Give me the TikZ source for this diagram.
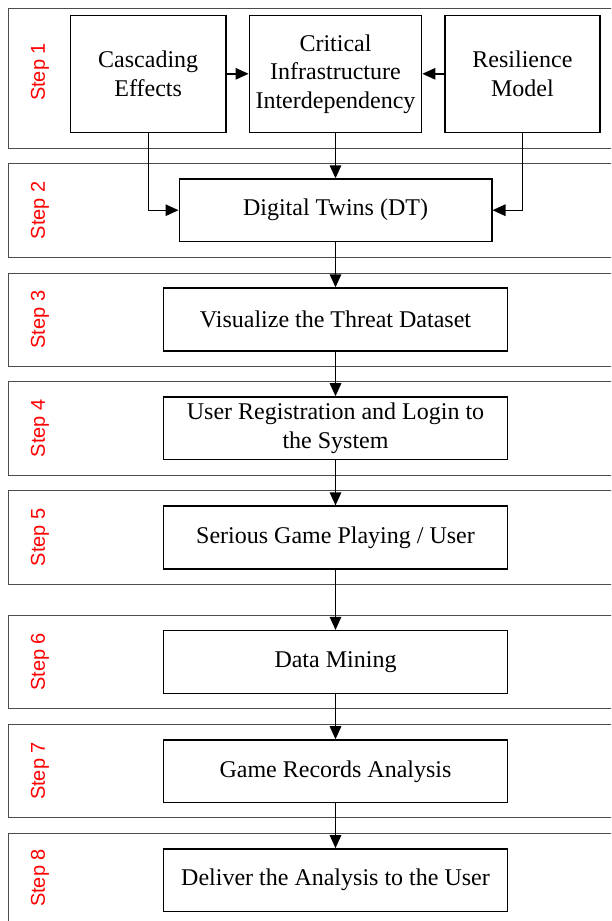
\documentclass[tikz,border=0pt]{standalone}
\usepackage{fontspec}
\setmainfont{Liberation Serif}
\newfontfamily\lblfont{Liberation Sans}
\usetikzlibrary{arrows.meta}
\begin{document}
\begin{tikzpicture}[x=1pt,y=-1pt,
  band/.style={draw=black!70,line width=0.9pt},
  box/.style={draw=black,line width=1.5pt,align=center,inner sep=0pt,
    font=\rmfamily\fontsize{24}{28.5}\selectfont},
  wide/.style={box,minimum width=343.7pt,minimum height=62.7pt},
  steplbl/.style={rotate=90,text=red,font=\lblfont\fontsize{20}{24}\selectfont,inner sep=0pt},
  conn/.style={draw=black,line width=1.4pt,-{Triangle[length=13pt,width=11.5pt]}}]
\useasboundingbox (0,0) rectangle (611,921);
\clip (0,0) rectangle (611,921);
\fill[white] (0,0) rectangle (611,921);
% bands
\draw[band] (8,8) rectangle (640,148);
\draw[band] (8,163.5) rectangle (640,257);
\draw[band] (8,273) rectangle (640,366);
\draw[band] (8,381.7) rectangle (640,475);
\draw[band] (8,490.7) rectangle (640,584);
\draw[band] (8,615) rectangle (640,708.7);
\draw[band] (8,724.3) rectangle (640,817.7);
\draw[band] (8,833.3) rectangle (640,960);
% labels
\node[steplbl] (l1) at (40,72) {Step 1};
\node[steplbl] (l2) at (40,210.2) {Step 2};
\node[steplbl] (l3) at (40,319.5) {Step 3};
\node[steplbl] (l4) at (40,428.3) {Step 4};
\node[steplbl] (l5) at (40,537.3) {Step 5};
\node[steplbl] (l6) at (40,661.8) {Step 6};
\node[steplbl] (l7) at (40,771) {Step 7};
\node[steplbl] (l8) at (40,878) {Step 8};
% boxes
\node[box,minimum width=155.5pt,minimum height=117pt] (casc) at (148.2,73.8) {Cascading\\Effects};
\node[box,minimum width=172.3pt,minimum height=117pt] (crit) at (335.5,73.8) {Critical\\Infrastructure\\Interdependency};
\node[box,minimum width=155.3pt,minimum height=117pt] (resil) at (522.4,73.8) {Resilience\\Model};
\node[box,minimum width=312.5pt,minimum height=62.3pt] (dt) at (335.5,210.2) {Digital Twins (DT)};
\node[wide] (s3) at (335.5,319.4) {Visualize the Threat Dataset};
\node[wide] (s4) at (335.5,428.3) {User Registration and Login to\\the System};
\node[wide] (s5) at (335.5,537.5) {Serious Game Playing / User};
\node[wide] (s6) at (335.5,662) {Data Mining};
\node[wide] (s7) at (335.5,771.3) {Game Records Analysis};
\node[wide] (s8) at (335.5,880.2) {Deliver the Analysis to the User};
% connectors
\draw[conn] (casc.east) -- (crit.west);
\draw[conn] (resil.west) -- (crit.east);
\draw[conn] (crit.south) -- (dt.north);
\draw[conn] (casc.south) |- (dt.west);
\draw[conn] (resil.south) |- (dt.east);
\draw[conn] (dt.south) -- (s3.north);
\draw[conn] (s3.south) -- (s4.north);
\draw[conn] (s4.south) -- (s5.north);
\draw[conn] (s5.south) -- (s6.north);
\draw[conn] (s6.south) -- (s7.north);
\draw[conn] (s7.south) -- (s8.north);
\end{tikzpicture}
\end{document}
